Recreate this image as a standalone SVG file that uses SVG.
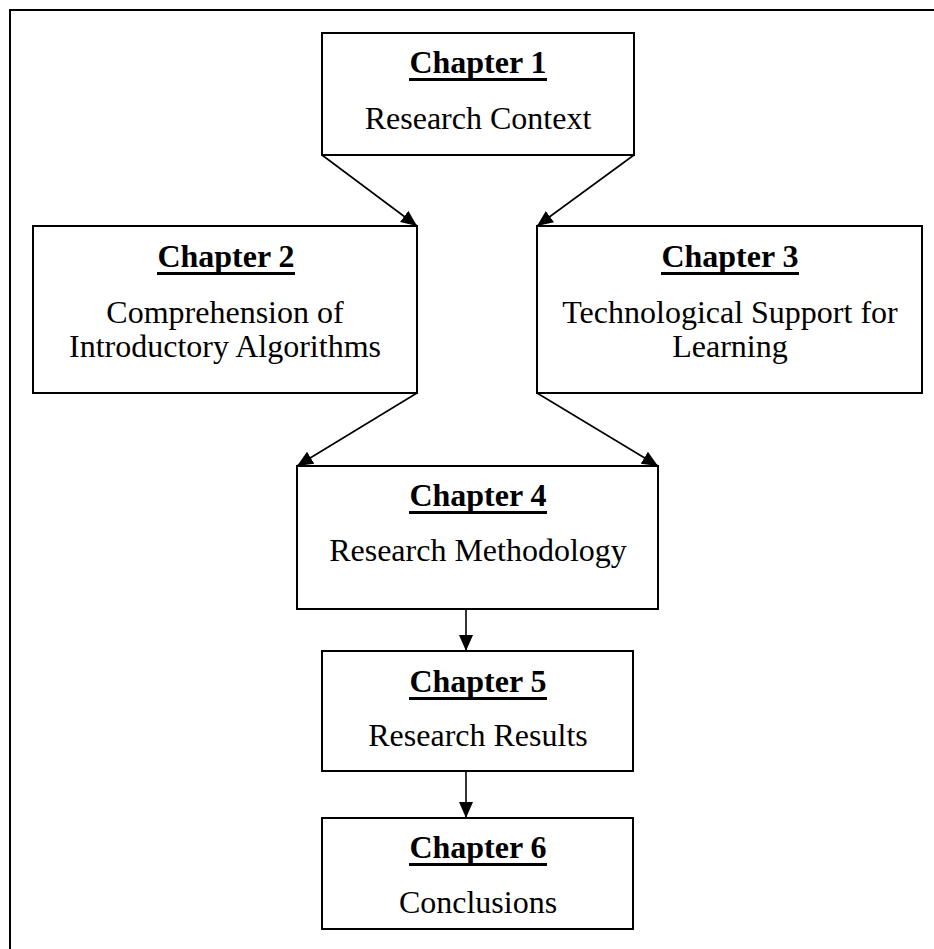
<svg xmlns="http://www.w3.org/2000/svg" width="934" height="949" viewBox="0 0 934 949">
  <style>
    .box { fill: #ffffff; stroke: #000000; stroke-width: 2; }
    .frame { fill: none; stroke: #000000; stroke-width: 2; }
    .head { font-family: "Liberation Serif", "Times New Roman", serif; font-weight: bold; font-size: 32px; text-anchor: middle; fill: #000000; }
    .body { font-family: "Liberation Serif", "Times New Roman", serif; font-size: 32px; text-anchor: middle; fill: #000000; }
    .uline { fill: #000000; }
    .conn { stroke: #000000; stroke-width: 1.6; fill: none; marker-end: url(#arrow); }
  </style>
  <defs>
    <marker id="arrow" markerUnits="userSpaceOnUse" markerWidth="18" markerHeight="16" refX="16" refY="7" orient="auto">
      <path d="M0,0 L16,7 L0,14 Z" fill="#000000"/>
    </marker>
  </defs>

  <rect width="934" height="949" fill="#ffffff"/>

  <!-- page frame: only top and left edges fall inside the page -->
  <path class="frame" d="M10,949 L10,10 L934,10"/>

  <g id="chapter1">
    <rect class="box" x="322" y="33" width="312" height="122"/>
    <text class="head" x="478" y="73">Chapter 1</text>
    <rect class="uline" x="409" y="78" width="138" height="3"/>
    <text class="body" x="478" y="129">Research Context</text>
  </g>

  <g id="chapter2">
    <rect class="box" x="33" y="226" width="384" height="167"/>
    <text class="head" x="226" y="267">Chapter 2</text>
    <rect class="uline" x="157" y="272" width="138" height="3"/>
    <text class="body" x="225" y="323">Comprehension of</text>
    <text class="body" x="225" y="357">Introductory Algorithms</text>
  </g>

  <g id="chapter3">
    <rect class="box" x="537" y="226" width="385" height="167"/>
    <text class="head" x="730" y="267">Chapter 3</text>
    <rect class="uline" x="661" y="272" width="138" height="3"/>
    <text class="body" x="730" y="323">Technological Support for</text>
    <text class="body" x="730" y="357">Learning</text>
  </g>

  <g id="chapter4">
    <rect class="box" x="297" y="466" width="361" height="143"/>
    <text class="head" x="478" y="506">Chapter 4</text>
    <rect class="uline" x="409" y="511" width="138" height="3"/>
    <text class="body" x="478" y="561">Research Methodology</text>
  </g>

  <g id="chapter5">
    <rect class="box" x="322" y="651" width="311" height="120"/>
    <text class="head" x="478" y="692">Chapter 5</text>
    <rect class="uline" x="409" y="697" width="138" height="3"/>
    <text class="body" x="478" y="746">Research Results</text>
  </g>

  <g id="chapter6">
    <rect class="box" x="322" y="818" width="311" height="111"/>
    <text class="head" x="478" y="858">Chapter 6</text>
    <rect class="uline" x="409" y="863" width="138" height="3"/>
    <text class="body" x="478" y="913">Conclusions</text>
  </g>

  <g id="connectors">
    <line class="conn" x1="322" y1="155" x2="417" y2="226"/>
    <line class="conn" x1="634" y1="155" x2="537" y2="226"/>
    <line class="conn" x1="417" y1="393" x2="297" y2="466"/>
    <line class="conn" x1="537" y1="393" x2="658" y2="466"/>
    <line class="conn" x1="466" y1="609" x2="466" y2="651"/>
    <line class="conn" x1="466" y1="771" x2="466" y2="818"/>
  </g>
</svg>
